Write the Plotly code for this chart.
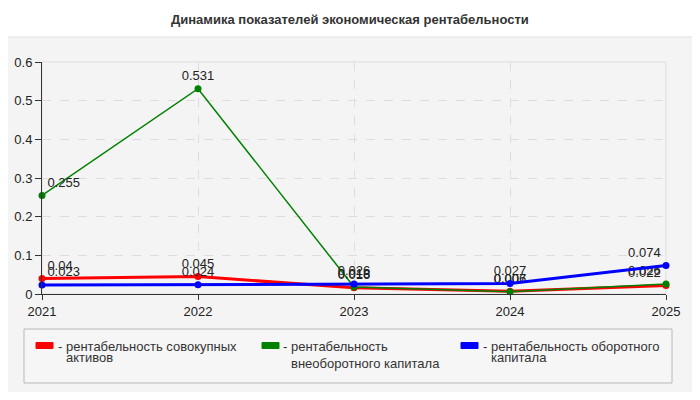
import plotly.graph_objects as go

years = [2021, 2022, 2023, 2024, 2025]
roa = [0.04, 0.045, 0.016, 0.007, 0.022]
non_current = [0.255, 0.531, 0.018, 0.006, 0.026]
current = [0.023, 0.024, 0.026, 0.027, 0.074]

series_names = ["рентабельность совокупных активов",
                "рентабельность внеоборотного капитала",
                "рентабельность оборотного капитала"]
legend_labels = ["- рентабельность совокупных<br>активов",
                 "- рентабельность<br>внеоборотного капитала",
                 "- рентабельность оборотного<br>капитала"]
colors = ["#ff0000", "#008000", "#0000ff"]
title = "Динамика показателей экономическая рентабельности"
y_ticks = [0, 0.1, 0.2, 0.3, 0.4, 0.5, 0.6]
y_ticktext = ["0", "0.1", "0.2", "0.3", "0.4", "0.5", "0.6"]

FONT = "Liberation Sans, Arial, sans-serif"

# Plot area in reference pixels: x 42..666, y 62..294
def px(X):
    return (X - 42) / 624.0

def py(Y):
    return (294 - Y) / 232.0

fig = go.Figure()
positions = ["top right", "top center", "top center", "top center", "top left"]
for name, vals, col, w in zip(series_names, [roa, non_current, current], colors, [3, 1.5, 3]):
    fig.add_trace(go.Scatter(
        x=years, y=vals, name=name, mode="lines+markers+text",
        line=dict(color=col, width=w),
        marker=dict(color=col, size=7),
        text=[str(v) for v in vals], textposition=positions,
        textfont=dict(family=FONT, size=13, color="#222"),
        cliponaxis=False, showlegend=False,
    ))

shapes = [
    dict(type="rect", xref="paper", yref="paper", x0=px(1), x1=px(699), y0=py(397), y1=py(37),
         fillcolor="#f4f4f4", line=dict(color="#e0e0e0", width=1), layer="below"),
    dict(type="rect", xref="paper", yref="paper", x0=px(24), x1=px(672), y0=py(383), y1=py(329),
         fillcolor="#f6f6f6", line=dict(color="#b8b8b8", width=1), layer="below"),
    dict(type="rect", xref="paper", yref="paper", x0=0, x1=1, y0=0, y1=1,
         fillcolor="rgba(0,0,0,0)", line=dict(color="#dddddd", width=1), layer="below"),
]
annotations = [dict(text="<b>" + title + "</b>", xref="paper", yref="paper", x=px(350), y=py(20),
                    xanchor="center", yanchor="middle", showarrow=False,
                    font=dict(family=FONT, size=13, color="#333"))]
sw_x = [36, 262, 461]
txt_x = [56, 281, 481]
line2_y = [357, 363, 357]
for i, (lab, col) in enumerate(zip(legend_labels, colors)):
    shapes.append(dict(type="rect", xref="paper", yref="paper",
                       x0=px(sw_x[i]), x1=px(sw_x[i] + 17),
                       y0=py(348.5), y1=py(342.5),
                       fillcolor=col, line=dict(color=col, width=1)))
    parts = lab.split("<br>")
    annotations.append(dict(text=parts[0], xref="paper", yref="paper",
                            x=px(txt_x[i]), y=py(346),
                            xanchor="left", yanchor="middle", align="left", showarrow=False,
                            font=dict(family=FONT, size=13, color="#333")))
    annotations.append(dict(text=parts[1], xref="paper", yref="paper",
                            x=px(txt_x[i] + 8), y=py(line2_y[i]),
                            xanchor="left", yanchor="middle", align="left", showarrow=False,
                            font=dict(family=FONT, size=13, color="#333")))

fig.update_layout(
    width=684, height=384,
    margin=dict(l=34, r=26, t=54, b=98),
    paper_bgcolor="#ffffff", plot_bgcolor="#fcfcf5",
    shapes=shapes, annotations=annotations,
    xaxis=dict(range=[2021, 2025], tickvals=years, ticktext=[str(y) for y in years],
               showgrid=True, gridcolor="#dddddd", griddash="dash",
               showline=True, linecolor="#333", ticks="outside", ticklen=5, tickcolor="#333",
               zeroline=False, automargin=False,
               tickfont=dict(family=FONT, size=13, color="#222")),
    yaxis=dict(range=[0, 0.6], tickvals=y_ticks, ticktext=y_ticktext,
               showgrid=True, gridcolor="#dddddd", griddash="dash",
               showline=True, linecolor="#333", ticks="outside", ticklen=6, tickcolor="#333",
               zeroline=False, automargin=False,
               tickfont=dict(family=FONT, size=13, color="#222")),
)
fig.write_html("out.html")
